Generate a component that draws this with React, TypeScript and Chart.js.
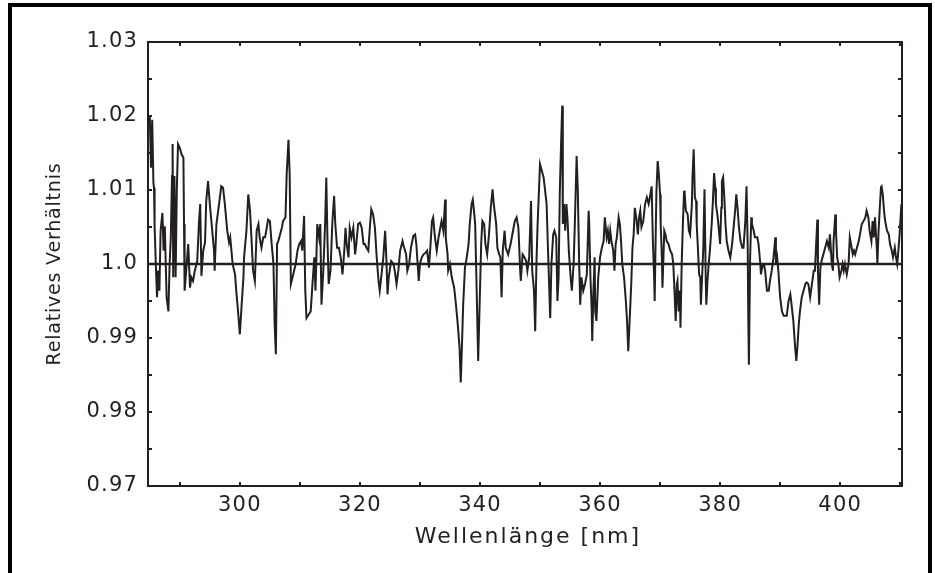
import React, { useEffect, useRef } from 'react';
import { Chart, registerables } from 'chart.js';

Chart.register(...registerables);

// ---- data: [wavelength nm, relative ratio] ----
const seg285to305: [number, number][] = [
  [285.0, 1.0200], [285.2, 1.0130], [285.4, 1.0195], [285.6, 1.0110], [285.7, 1.0103], [285.8, 1.0051],
  [286.0, 1.0000], [286.2, 0.9955], [286.4, 0.9991], [286.6, 0.9964], [286.8, 1.0045], [287.1, 1.0069],
  [287.3, 1.0018], [287.5, 1.0051], [287.8, 0.9955], [288.1, 0.9936], [288.3, 1.0000], [288.5, 1.0036],
  [288.7, 1.0119], [288.8, 1.0162], [288.9, 0.9982], [289.1, 1.0119], [289.3, 0.9982], [289.5, 1.0100],
  [289.7, 1.0162], [290.0, 1.0157], [290.3, 1.0148], [290.6, 1.0144], [290.7, 1.0054], [290.8, 0.9964],
  [291.1, 0.9995], [291.4, 1.0027], [291.7, 0.9968], [291.9, 0.9982], [292.2, 0.9977], [292.5, 0.9991],
  [292.9, 1.0004], [293.2, 1.0058], [293.4, 1.0081], [293.6, 0.9984], [293.9, 1.0018], [294.2, 1.0029],
  [294.4, 1.0085], [294.7, 1.0112], [295.0, 1.0081], [295.3, 1.0054], [295.7, 1.0018], [295.8, 0.9991],
  [296.1, 1.0054], [296.6, 1.0085], [296.9, 1.0105], [297.2, 1.0103], [297.5, 1.0081], [297.9, 1.0045],
  [298.2, 1.0029], [298.4, 1.0036], [298.8, 1.0000], [299.2, 0.9986], [299.4, 0.9964], [299.7, 0.9936],
  [300.0, 0.9905], [300.3, 0.9945], [300.6, 0.9982], [300.7, 1.0009], [301.1, 1.0045], [301.4, 1.0094],
  [301.7, 1.0072], [301.9, 1.0040], [302.2, 0.9991], [302.5, 0.9977], [302.8, 1.0045], [303.1, 1.0054],
  [303.3, 1.0036], [303.6, 1.0022], [303.9, 1.0036], [304.2, 1.0036], [304.4, 1.0045], [304.7, 1.0060],
];

const seg305to325: [number, number][] = [
  [305.0, 1.0058], [305.3, 1.0027], [305.6, 1.0000], [305.8, 0.9918], [306.0, 0.9878], [306.2, 1.0027],
  [306.4, 1.0031], [306.7, 1.0040], [307.0, 1.0049], [307.2, 1.0058], [307.6, 1.0063], [307.8, 1.0121],
  [308.1, 1.0168], [308.3, 1.0121], [308.5, 0.9973], [308.9, 0.9986], [309.3, 1.0000], [309.6, 1.0018],
  [309.9, 1.0027], [310.2, 1.0031], [310.4, 1.0018], [310.7, 1.0065], [310.9, 0.9964], [311.1, 0.9927],
  [311.5, 0.9932], [311.8, 0.9936], [312.1, 0.9973], [312.4, 1.0009], [312.6, 0.9964], [312.9, 1.0054],
  [313.2, 1.0036], [313.4, 1.0054], [313.6, 0.9945], [313.9, 0.9991], [314.2, 1.0054], [314.4, 1.0117],
  [314.6, 1.0031], [314.8, 0.9973], [315.1, 0.9991], [315.4, 1.0054], [315.7, 1.0092], [315.9, 1.0054],
  [316.2, 1.0022], [316.5, 1.0022], [316.8, 1.0009], [317.1, 0.9986], [317.4, 1.0018], [317.6, 1.0049],
  [317.8, 1.0027], [318.1, 1.0009], [318.3, 1.0049], [318.6, 1.0036], [318.9, 1.0049], [319.2, 1.0013],
  [319.4, 1.0027], [319.7, 1.0054], [320.0, 1.0056], [320.3, 1.0049], [320.6, 1.0027], [320.8, 1.0027],
  [321.1, 1.0022], [321.4, 1.0018], [321.7, 1.0054], [321.9, 1.0074], [322.2, 1.0067], [322.5, 1.0049],
  [322.8, 1.0009], [323.1, 0.9977], [323.3, 0.9964], [323.6, 0.9986], [323.9, 1.0009], [324.2, 1.0045],
  [324.4, 1.0009], [324.6, 0.9959], [324.8, 0.9982], [325.2, 1.0004],
];

const seg325to345: [number, number][] = [
  [325.6, 1.0000], [325.8, 0.9991], [326.1, 0.9973], [326.4, 0.9991], [326.7, 1.0018], [327.1, 1.0031],
  [327.3, 1.0024], [327.7, 1.0013], [327.9, 0.9991], [328.2, 1.0000], [328.5, 1.0022], [328.9, 1.0038],
  [329.2, 1.0040], [329.4, 1.0027], [329.8, 0.9977], [330.0, 1.0000], [330.3, 1.0009], [330.6, 1.0013],
  [330.9, 1.0015], [331.2, 1.0018], [331.5, 0.9995], [331.8, 1.0031], [332.0, 1.0058], [332.2, 1.0063],
  [332.5, 1.0036], [332.8, 1.0018], [333.1, 1.0036], [333.3, 1.0045], [333.6, 1.0058], [333.9, 1.0045],
  [334.2, 1.0087], [334.3, 1.0036], [334.6, 1.0013], [334.7, 0.9991], [335.0, 1.0000], [335.3, 0.9982],
  [335.7, 0.9968], [336.0, 0.9945], [336.3, 0.9918], [336.6, 0.9887], [336.8, 0.9840], [337.0, 0.9891],
  [337.2, 0.9945], [337.5, 0.9995], [337.8, 1.0009], [338.1, 1.0027], [338.3, 1.0054], [338.6, 1.0081],
  [338.8, 1.0087], [339.0, 1.0072], [339.2, 1.0054], [339.4, 0.9982], [339.7, 0.9869], [340.0, 0.9964],
  [340.2, 1.0027], [340.4, 1.0058], [340.7, 1.0054], [340.9, 1.0027], [341.2, 1.0013], [341.5, 1.0040],
  [341.8, 1.0076], [342.1, 1.0101], [342.3, 1.0081], [342.7, 1.0054], [342.9, 1.0022], [343.2, 1.0013],
  [343.4, 1.0009], [343.6, 0.9955], [343.8, 1.0018], [344.1, 1.0045], [344.3, 1.0022], [344.7, 1.0013],
  [345.1, 1.0027], [345.6, 1.0049],
];

const seg345to367: [number, number][] = [
  [345.8, 1.0058], [346.1, 1.0063], [346.4, 1.0049], [346.7, 0.9991], [346.8, 0.9977], [347.1, 1.0013],
  [347.4, 1.0009], [347.7, 1.0004], [347.9, 0.9991], [348.2, 1.0009], [348.5, 1.0085], [348.7, 0.9991],
  [349.0, 0.9964], [349.2, 0.9909], [349.4, 1.0000], [349.6, 1.0054], [349.8, 1.0094], [350.0, 1.0135],
  [350.3, 1.0126], [350.6, 1.0117], [350.8, 1.0103], [351.1, 1.0081], [351.3, 1.0027], [351.5, 0.9977],
  [351.7, 0.9927], [351.9, 1.0000], [352.2, 1.0040], [352.4, 1.0045], [352.7, 1.0036], [352.9, 0.9950],
  [353.1, 0.9982], [353.3, 1.0099], [353.5, 1.0159], [353.7, 1.0214], [353.8, 1.0054], [354.0, 1.0081],
  [354.2, 1.0045], [354.4, 1.0081], [354.6, 1.0058], [354.8, 1.0018], [355.1, 0.9982], [355.3, 0.9964],
  [355.6, 1.0000], [355.8, 1.0054], [356.1, 1.0146], [356.3, 1.0099], [356.5, 1.0009], [356.7, 0.9945],
  [356.9, 0.9982], [357.2, 0.9964], [357.5, 0.9973], [357.8, 0.9986], [358.1, 1.0072], [358.2, 1.0054],
  [358.4, 0.9982], [358.6, 0.9941], [358.7, 0.9896], [358.9, 0.9964], [359.1, 1.0009], [359.2, 0.9936],
  [359.4, 0.9923], [359.7, 0.9982], [360.0, 1.0009], [360.3, 1.0022], [360.6, 1.0031], [360.8, 1.0063],
  [361.1, 1.0036], [361.3, 1.0045], [361.5, 1.0027], [361.7, 1.0045], [361.9, 1.0031], [362.2, 1.0018],
  [362.4, 0.9991], [362.6, 1.0027], [362.8, 1.0036], [363.1, 1.0063], [363.3, 1.0054], [363.5, 1.0031],
  [363.7, 1.0000], [364.0, 0.9982], [364.3, 0.9950], [364.5, 0.9923], [364.7, 0.9882], [364.9, 0.9918],
  [365.2, 0.9973], [365.4, 1.0022], [365.6, 1.0040], [365.8, 1.0076], [366.1, 1.0058], [366.3, 1.0040],
  [366.5, 1.0063], [366.7, 1.0072],
];

const seg367to387: [number, number][] = [
  [366.9, 1.0050], [367.2, 1.0058], [367.5, 1.0081], [367.8, 1.0090], [368.1, 1.0081], [368.3, 1.0090],
  [368.6, 1.0105], [368.8, 1.0031], [369.0, 0.9986], [369.1, 0.9950], [369.3, 1.0054], [369.4, 1.0099],
  [369.6, 1.0139], [369.8, 1.0121], [370.0, 1.0094], [370.1, 1.0054], [370.3, 1.0009], [370.4, 0.9968],
  [370.7, 1.0045], [370.9, 1.0040], [371.1, 1.0031], [371.4, 1.0027], [371.7, 1.0018], [372.0, 1.0013],
  [372.2, 1.0000], [372.4, 0.9964], [372.6, 0.9923], [372.8, 0.9973], [372.9, 0.9977], [373.1, 0.9936],
  [373.3, 0.9964], [373.4, 0.9914], [373.6, 1.0000], [373.8, 1.0054], [374.0, 1.0099], [374.1, 1.0094],
  [374.3, 1.0072], [374.6, 1.0067], [374.8, 1.0045], [375.0, 1.0040], [375.3, 1.0081], [375.4, 1.0117],
  [375.6, 1.0155], [375.8, 1.0090], [376.0, 1.0085], [376.1, 1.0054], [376.3, 1.0022], [376.5, 0.9986],
  [376.7, 0.9982], [376.8, 0.9945], [377.0, 0.9982], [377.2, 1.0022], [377.4, 1.0101], [377.6, 0.9982],
  [377.7, 0.9945], [377.9, 0.9977], [378.1, 1.0000], [378.3, 1.0018], [378.6, 1.0054], [378.8, 1.0085],
  [379.0, 1.0123], [379.2, 1.0103], [379.3, 1.0081], [379.6, 1.0063], [379.8, 1.0045], [380.0, 1.0027],
  [380.2, 1.0076], [380.3, 1.0112], [380.5, 1.0117], [380.7, 1.0090], [380.9, 1.0054], [381.1, 1.0031],
  [381.4, 1.0018], [381.7, 1.0009], [382.0, 1.0027], [382.2, 1.0045], [382.5, 1.0072], [382.7, 1.0094],
  [382.9, 1.0076], [383.1, 1.0054], [383.2, 1.0045], [383.4, 1.0031], [383.7, 1.0022], [383.9, 1.0022],
  [384.2, 1.0058], [384.4, 1.0105], [384.6, 1.0022], [384.7, 0.9923], [384.8, 0.9864], [385.0, 1.0009],
  [385.2, 1.0063], [385.3, 1.0054], [385.6, 1.0045], [385.8, 1.0036], [386.0, 1.0036], [386.2, 1.0036],
  [386.4, 1.0027], [386.7, 1.0000], [386.8, 0.9986], [387.1, 1.0000], [387.3, 1.0000],
];

const seg387to410: [number, number][] = [
  [387.5, 0.9991], [387.8, 0.9964], [388.1, 0.9964], [388.3, 0.9977], [388.6, 0.9991], [388.9, 1.0009],
  [389.2, 1.0036], [389.3, 1.0000], [389.5, 1.0009], [389.7, 0.9991], [390.0, 0.9955], [390.3, 0.9936],
  [390.6, 0.9930], [390.8, 0.9930], [391.1, 0.9930], [391.4, 0.9950], [391.7, 0.9959], [391.9, 0.9945],
  [392.2, 0.9923], [392.5, 0.9887], [392.7, 0.9869], [392.9, 0.9891], [393.1, 0.9918], [393.3, 0.9936],
  [393.6, 0.9955], [393.9, 0.9964], [394.2, 0.9973], [394.4, 0.9975], [394.7, 0.9973], [395.0, 0.9955],
  [395.3, 0.9973], [395.6, 0.9991], [395.8, 0.9991], [396.0, 1.0027], [396.2, 1.0060], [396.3, 0.9991],
  [396.5, 0.9945], [396.7, 0.9995], [396.9, 1.0004], [397.2, 1.0013], [397.5, 1.0022], [397.8, 1.0031],
  [398.1, 1.0022], [398.3, 1.0040], [398.6, 1.0000], [398.8, 0.9991], [398.9, 1.0031], [399.2, 1.0067],
  [399.3, 1.0045], [399.5, 1.0009], [399.7, 1.0000], [399.9, 0.9982], [400.2, 0.9991], [400.4, 1.0000],
  [400.6, 0.9991], [400.8, 1.0000], [401.1, 0.9986], [401.4, 1.0000], [401.6, 1.0036], [401.8, 1.0027],
  [402.1, 1.0013], [402.3, 1.0018], [402.5, 1.0013], [402.8, 1.0022], [403.1, 1.0031], [403.3, 1.0040],
  [403.6, 1.0054], [403.9, 1.0058], [404.2, 1.0063], [404.4, 1.0072], [404.7, 1.0063], [404.9, 1.0045],
  [405.2, 1.0031], [405.4, 1.0058], [405.6, 1.0036], [405.8, 1.0063], [406.1, 1.0022], [406.2, 1.0000],
  [406.4, 1.0045], [406.6, 1.0076], [406.8, 1.0104], [406.9, 1.0105], [407.1, 1.0094], [407.3, 1.0072],
  [407.5, 1.0058], [407.8, 1.0045], [408.1, 1.0040], [408.3, 1.0027], [408.6, 1.0018], [408.8, 1.0009],
  [409.1, 1.0022], [409.3, 1.0009], [409.5, 1.0000], [409.7, 1.0018], [409.9, 1.0040], [410.2, 1.0081],
];

const referenceLevel = 1.0;
const xRange = [284.7, 410.3];
const yRange = [0.97, 1.03];
const xTickValues = [300, 320, 340, 360, 380, 400];
const xMarkValues = [290, 300, 310, 320, 330, 340, 350, 360, 370, 380, 390, 400, 410];
const yTickValues = [0.97, 0.98, 0.99, 1.0, 1.01, 1.02, 1.03];
const yTickLabels = ['0.97', '0.98', '0.99', '1.0', '1.01', '1.02', '1.03'];
const yMarkValues = [0.975, 0.98, 0.985, 0.99, 0.995, 1.0, 1.005, 1.01, 1.015, 1.02, 1.025];
const xTitle = 'Wellenlänge [nm]';
const yTitle = 'Relatives Verhältnis';

const INK = '#231f20';
const FONT = '"DejaVu Sans", sans-serif';

const framePlugin = {
  id: 'frameAndTitles',
  beforeDraw(chart: any) {
    (chart.ctx as any).letterSpacing = '1.2px';
  },
  afterDraw(chart: any) {
    const ctx = chart.ctx as CanvasRenderingContext2D & { letterSpacing: string };
    const { left, right, top, bottom } = chart.chartArea;
    const xs = chart.scales.x;
    const ys = chart.scales.y;
    ctx.save();
    ctx.letterSpacing = '0px';
    ctx.strokeStyle = INK;
    ctx.lineWidth = 2;
    ctx.strokeRect(left, top, right - left, bottom - top);
    ctx.beginPath();
    for (const v of xMarkValues) {
      const px = Math.round(xs.getPixelForValue(v));
      if (px <= left + 1 || px >= right - 1) continue;
      ctx.moveTo(px, bottom);
      ctx.lineTo(px, bottom - 4);
      ctx.moveTo(px, top);
      ctx.lineTo(px, top + 4);
    }
    for (const v of yMarkValues) {
      const py = Math.round(ys.getPixelForValue(v));
      ctx.moveTo(left, py);
      ctx.lineTo(left + 4, py);
      ctx.moveTo(right, py);
      ctx.lineTo(right - 4, py);
    }
    ctx.stroke();

    ctx.fillStyle = INK;
    ctx.textAlign = 'center';
    ctx.textBaseline = 'middle';
    ctx.font = `22px ${FONT}`;
    ctx.letterSpacing = '2px';
    ctx.fillText(xTitle, (left + right) / 2 + 3, bottom + 51);

    ctx.font = `19px ${FONT}`;
    ctx.letterSpacing = '0.8px';
    ctx.translate(55, (top + bottom) / 2);
    ctx.rotate(-Math.PI / 2);
    ctx.fillText(yTitle, 0, 0);
    ctx.restore();
    ctx.letterSpacing = '0px';
  },
};

export default function App() {
  const ref = useRef<HTMLCanvasElement>(null);

  useEffect(() => {
    const spectrum = [
      ...seg285to305,
      ...seg305to325,
      ...seg325to345,
      ...seg345to367,
      ...seg367to387,
      ...seg387to410,
    ].map(([x, y]) => ({ x, y }));
    const baseline = xRange.map((x) => ({ x, y: referenceLevel }));

    const chart = new Chart(ref.current as HTMLCanvasElement, {
      type: 'line',
      data: {
        datasets: [
          {
            data: baseline,
            borderColor: INK,
            borderWidth: 2.5,
            pointRadius: 0,
            tension: 0,
          },
          {
            data: spectrum,
            borderColor: INK,
            borderWidth: 2,
            pointRadius: 0,
            tension: 0,
          },
        ],
      },
      options: {
        animation: false,
        responsive: false,
        maintainAspectRatio: false,
        devicePixelRatio: 1,
        events: [],
        layout: { padding: { left: 0, top: 42, right: 33, bottom: 0 } },
        plugins: {
          legend: { display: false },
          tooltip: { enabled: false },
          title: { display: false },
        },
        scales: {
          x: {
            type: 'linear',
            position: 'bottom',
            min: xRange[0],
            max: xRange[1],
            grid: { display: false, drawTicks: false },
            border: { display: false },
            ticks: {
              color: INK,
              font: { family: FONT, size: 21 },
              padding: 7,
              maxRotation: 0,
              autoSkip: false,
              callback: (v: any) => String(v),
            },
            afterBuildTicks: (scale: any) => {
              scale.ticks = xTickValues.map((value) => ({ value }));
            },
            afterFit: (scale: any) => {
              scale.height = 87;
            },
          },
          y: {
            type: 'linear',
            position: 'left',
            min: yRange[0],
            max: yRange[1],
            grid: { display: false, drawTicks: false },
            border: { display: false },
            ticks: {
              color: INK,
              font: { family: FONT, size: 21 },
              padding: 10,
              autoSkip: false,
              callback: (_v: any, i: number) => yTickLabels[i],
            },
            afterBuildTicks: (scale: any) => {
              scale.ticks = yTickValues.map((value) => ({ value }));
            },
            afterFit: (scale: any) => {
              scale.width = 148;
            },
          },
        },
      },
      plugins: [framePlugin],
    });
    return () => chart.destroy();
  }, []);

  return (
    <div style={{ position: 'fixed', left: 0, top: 0, width: 935, height: 573, background: '#fff', overflow: 'hidden' }}>
      <canvas
        ref={ref}
        width={935}
        height={573}
        style={{ position: 'absolute', left: 0, top: 0, width: 935, height: 573 }}
      />
      <div
        style={{
          position: 'absolute',
          left: 8,
          top: 3,
          width: 916,
          height: 570,
          borderTop: '4px solid #000',
          borderLeft: '4px solid #000',
          borderRight: '4px solid #000',
          pointerEvents: 'none',
        }}
      />
    </div>
  );
}
